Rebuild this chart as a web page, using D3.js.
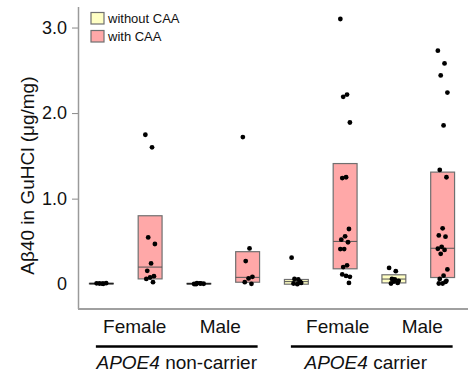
<!DOCTYPE html>
<html>
<head>
<meta charset="utf-8">
<script src="https://cdn.jsdelivr.net/npm/d3@7"></script>
<style>
  html, body { margin: 0; padding: 0; background: #fff; }
  svg { display: block; }
  text { font-family: "Liberation Sans", Arial, sans-serif; }
</style>
</head>
<body>
<svg id="chart" width="468" height="374"></svg>
<script>
// ---------- data ----------
const categories = ["Female", "Male", "Female", "Male"];
const groups = ["non-carrier", "non-carrier", "carrier", "carrier"];
const groupLabels = ["non-carrier", "carrier"];
const seriesNames = ["without CAA", "with CAA"];
const yTicks = [0, 1, 2, 3];
const yTickLabels = ["0", "1.0", "2.0", "3.0"];

// box statistics (Q1, median, Q3) per category
const withoutQ1  = [0.005, 0.004, 0.000, 0.015];
const withoutMed = [0.007, 0.006, 0.030, 0.060];
const withoutQ3  = [0.010, 0.009, 0.055, 0.110];
const withQ1  = [0.062, 0.023, 0.180, 0.078];
const withMed = [0.200, 0.080, 0.500, 0.420];
const withQ3  = [0.800, 0.380, 1.410, 1.310];

// individual measurements
const withoutPoints = [
  [0.010, 0.005, 0.008, 0.012, 0.006],
  [0.002, 0.008, 0.012, 0.005, 0.010, 0.000],
  [0.310, 0.055, 0.062, 0.015, 0.000, 0.008, 0.027],
  [0.190, 0.152, 0.062, 0.039, 0.055, 0.008, 0.015, 0.030]
];
const withPoints = [
  [1.747, 1.600, 0.547, 0.470, 0.243, 0.156, 0.094, 0.078, 0.062, 0.023],
  [1.720, 0.418, 0.270, 0.086, 0.067, 0.023, 0.004],
  [3.100, 2.216, 2.190, 1.890, 1.250, 1.240, 0.645, 0.560, 0.520, 0.490, 0.410, 0.410, 0.220, 0.200, 0.086, 0.097, 0.114, 0.015],
  [2.730, 2.580, 2.440, 2.240, 1.856, 1.336, 1.250, 0.653, 0.570, 0.555, 0.437, 0.414, 0.400, 0.355, 0.172, 0.100, 0.062, 0.039, 0.008, 0.008, 0.027]
];

// ---------- build slots ----------
const slots = [];
categories.forEach((c, i) => {
  slots.push({key: i + "-0", series: 0, q1: withoutQ1[i], med: withoutMed[i], q3: withoutQ3[i], pts: withoutPoints[i]});
  slots.push({key: i + "-1", series: 1, q1: withQ1[i], med: withMed[i], q3: withQ3[i], pts: withPoints[i]});
});

const fills = ["#ffffc4", "#ffa8a8"];
const boxStroke = "#707070";

const svg = d3.select("#chart");
const x = d3.scalePoint().domain(slots.map(s => s.key)).range([77, 467]).padding(0.5);
const step = x.step();
const boxW = step * 0.49;
const y = d3.scaleLinear().domain([-0.29, 3.24]).range([309, 7]);

// axes
const yAxis = d3.axisLeft(y).tickValues(yTicks).tickFormat((d, i) => yTickLabels[i]).tickSize(6).tickPadding(5);
const gy = svg.append("g").attr("transform", "translate(78,0)").call(yAxis);
gy.select(".domain").remove();
gy.selectAll(".tick line").attr("stroke", "#888").attr("stroke-width", 1);
gy.selectAll(".tick text").attr("font-size", 18).attr("fill", "#111")
  .attr("font-family", '"Liberation Sans", Arial, sans-serif');
gy.selectAll(".tick").filter(d => d === 0).select("line").remove();

svg.append("line").attr("x1", 78.5).attr("x2", 78.5).attr("y1", 7).attr("y2", 309)
  .attr("stroke", "#9a9a9a").attr("stroke-width", 1.5);
svg.append("line").attr("x1", 78).attr("x2", 468).attr("y1", 309).attr("y2", 309)
  .attr("stroke", "#a0a0a0").attr("stroke-width", 2);

// y title
svg.append("text")
  .attr("transform", `translate(34,${(y(0) + 63) / 2 + 2}) rotate(-90)`)
  .attr("text-anchor", "middle").attr("font-size", 19).attr("fill", "#111")
  .text("Aβ40 in GuHCl (μg/mg)");

// boxes
const g = svg.append("g");
slots.forEach(s => {
  const cx = x(s.key);
  g.append("rect")
    .attr("x", cx - boxW / 2).attr("width", boxW)
    .attr("y", y(s.q3)).attr("height", Math.max(0.5, y(s.q1) - y(s.q3)))
    .attr("fill", fills[s.series]).attr("stroke", boxStroke).attr("stroke-width", 1.2);
  g.append("line")
    .attr("x1", cx - boxW / 2).attr("x2", cx + boxW / 2)
    .attr("y1", y(s.med)).attr("y2", y(s.med))
    .attr("stroke", "#555").attr("stroke-width", 1);
});
// flat boxes (no spread) drawn as a dark line
slots.filter(s => y(s.q1) - y(s.q3) < 1.5).forEach(s => {
  const cx = x(s.key);
  g.append("line").attr("x1", cx - boxW / 2).attr("x2", cx + boxW / 2)
    .attr("y1", y(s.med)).attr("y2", y(s.med)).attr("stroke", "#222").attr("stroke-width", 1.6);
});

// points (deterministic small horizontal spread)
slots.forEach(s => {
  const cx = x(s.key);
  g.selectAll(null).data(s.pts).enter().append("circle")
    .attr("cx", (d, i) => cx + (((i * 7) % 11) - 5) / 5 * boxW * 0.2)
    .attr("cy", d => y(d))
    .attr("r", 2.4)
    .attr("fill", "#000");
});

// category labels
const catOffsets = [9, -3, 17, 4];
categories.forEach((c, i) => {
  const cx = (x(i + "-0") + x(i + "-1")) / 2 + catOffsets[i];
  svg.append("text").attr("x", cx).attr("y", 333).attr("text-anchor", "middle")
    .attr("font-size", 19).attr("fill", "#111").text(c);
});

// group underline and labels
groupLabels.forEach((gName, gi) => {
  const first = gi * 2, last = gi * 2 + 1;
  const x1 = x(first + "-0") - 5.5;
  const x2 = x(last + "-1") + 10;
  svg.append("line").attr("x1", x1).attr("x2", x2).attr("y1", 346.5).attr("y2", 346.5)
    .attr("stroke", "#000").attr("stroke-width", 2.6);
  const t = svg.append("text").attr("x", gi === 0 ? (x1 + x2) / 2 : (x1 + x2) / 2 - 6)
    .attr("y", 369).attr("text-anchor", "middle").attr("font-size", 19).attr("fill", "#111");
  t.append("tspan").attr("font-style", "italic").text("APOE4");
  t.append("tspan").text(" " + gName);
});

// legend
const lg = svg.append("g");
seriesNames.forEach((n, i) => {
  lg.append("rect").attr("x", 91).attr("y", 12.5 + i * 18).attr("width", 13).attr("height", 11.5)
    .attr("fill", fills[i]).attr("stroke", boxStroke).attr("stroke-width", 1.2);
  lg.append("text").attr("x", 108).attr("y", 22.5 + i * 18).attr("font-size", 13).attr("fill", "#111").text(n);
});
</script>
</body>
</html>
